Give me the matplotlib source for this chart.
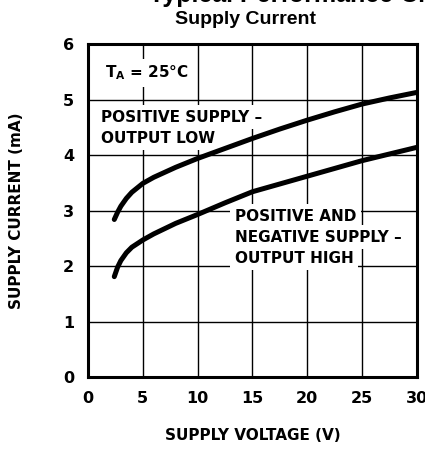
import numpy as np
import matplotlib.pyplot as plt

plt.rcParams['font.family'] = ['DejaVu Sans']

# supply voltage (V)
volts = [2.4, 2.7, 3, 3.5, 4, 5, 6, 8, 10, 12.5, 15, 17.5, 20, 22.5, 25, 27.5, 30]
# positive supply, output low (mA)
i_low = [2.84, 2.97, 3.08, 3.22, 3.33, 3.49, 3.60, 3.78, 3.94, 4.12, 4.30,
         4.47, 4.63, 4.78, 4.92, 5.03, 5.13]
# positive and negative supply, output high (mA)
i_high = [1.81, 1.98, 2.10, 2.24, 2.34, 2.47, 2.58, 2.77, 2.93, 3.14, 3.34,
          3.48, 3.62, 3.76, 3.90, 4.02, 4.14]

x_ticks = [0, 5, 10, 15, 20, 25, 30]
y_ticks = [0, 1, 2, 3, 4, 5, 6]

fig = plt.figure(figsize=(4.25, 4.5), dpi=100)
ax = fig.add_axes([0.207, 0.162, 0.774, 0.740])

ax.plot(volts, i_low, color='black', lw=3.6, solid_capstyle='round', zorder=5)
ax.plot(volts, i_high, color='black', lw=3.6, solid_capstyle='round', zorder=5)

ax.set_xlim(0, 30)
ax.set_ylim(0, 6)
ax.set_xticks(x_ticks)
ax.set_yticks(y_ticks)
ax.grid(True, color='black', lw=1.0)
ax.tick_params(length=0, labelsize=11.5, pad=10)
for lab in ax.get_xticklabels() + ax.get_yticklabels():
    lab.set_fontweight('bold')
for s in ax.spines.values():
    s.set_linewidth(2.2)
    s.set_zorder(6)

ax.set_xlabel('SUPPLY VOLTAGE (V)', fontsize=11, fontweight='bold', labelpad=16)
ax.set_ylabel('SUPPLY CURRENT (mA)', fontsize=11, fontweight='bold', labelpad=28)

box = dict(facecolor='white', edgecolor='none', pad=3.2)
ax.text(1.55, 5.48, r'T$_\mathbf{A}$ = 25°C', fontsize=11, fontweight='bold',
        va='center', ha='left', bbox=box, zorder=4)
upper_lines = ['POSITIVE SUPPLY –', 'OUTPUT LOW']
for k, s in enumerate(upper_lines):
    ax.text(1.2, 4.68 - 0.38 * k, s, fontsize=11, fontweight='bold',
            va='center', ha='left', bbox=box, zorder=4)
lower_lines = ['POSITIVE AND', 'NEGATIVE SUPPLY –', 'OUTPUT HIGH']
for k, s in enumerate(lower_lines):
    ax.text(13.4, 2.9 - 0.38 * k, s, fontsize=11, fontweight='bold',
            va='center', ha='left', bbox=box, zorder=4)

fig.text(0.577, 0.957, 'Supply Current', fontsize=14, fontweight='bold',
         ha='center', va='center', family=['Liberation Sans', 'DejaVu Sans'])
fig.text(0.35, 0.996, 'Typical Performance Characteristics', fontsize=18,
         fontweight='bold', ha='left', va='baseline', family=['Liberation Sans', 'DejaVu Sans'])

fig.savefig('out.png', dpi=100)
